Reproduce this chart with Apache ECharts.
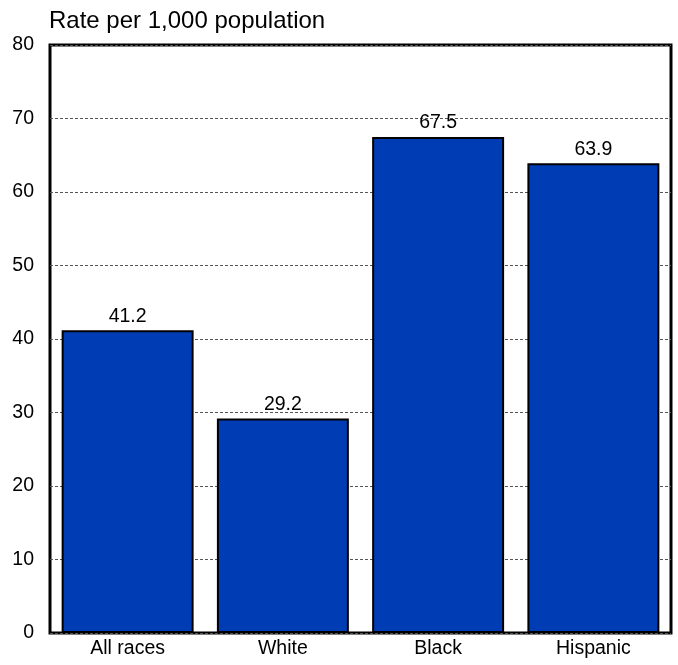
<!DOCTYPE html>
<html><head><meta charset="utf-8">
<script src="https://cdn.jsdelivr.net/npm/echarts@6/dist/echarts.min.js"></script>
<style>html,body{margin:0;padding:0;background:#fff}#c{width:678px;height:665px}</style>
</head><body><div id="c"></div>
<script>
const categories = ["All races", "White", "Black", "Hispanic"];
const rates = [41.2, 29.2, 67.5, 63.9];
const yTicks = [0, 10, 20, 30, 40, 50, 60, 70, 80];

const chart = echarts.init(document.getElementById('c'));
const font = 'Liberation Sans, Arial, sans-serif';
chart.setOption({
  animation: false,
  title: { text: 'Rate per 1,000 population', left: 44, top: 4,
    textStyle: { fontFamily: font, fontSize: 24, fontWeight: 'normal', color: '#000' } },
  grid: { left: 50, right: 7, top: 45, bottom: 32, show: true, borderColor: '#000', borderWidth: 3 },
  xAxis: { type: 'category', data: categories,
    axisLine: { show: false }, axisTick: { show: false },
    axisLabel: { fontFamily: font, fontSize: 19.5, color: '#000', margin: 6 } },
  yAxis: { type: 'value', min: yTicks[0], max: yTicks[yTicks.length-1], interval: 10,
    axisLine: { show: false }, axisTick: { show: false },
    axisLabel: { fontFamily: font, fontSize: 19.5, color: '#000', margin: 16 },
    splitLine: { lineStyle: { type: [3, 2], color: '#555', width: 1 } } },
  series: [{ type: 'bar', data: rates, barWidth: '85%',
    itemStyle: { color: '#003DB5', borderColor: '#000', borderWidth: 2 },
    label: { show: true, position: 'top', distance: 4, fontFamily: font, fontSize: 19.5, color: '#000',
      formatter: p => p.value.toFixed(1) } }]
});
</script></body></html>
